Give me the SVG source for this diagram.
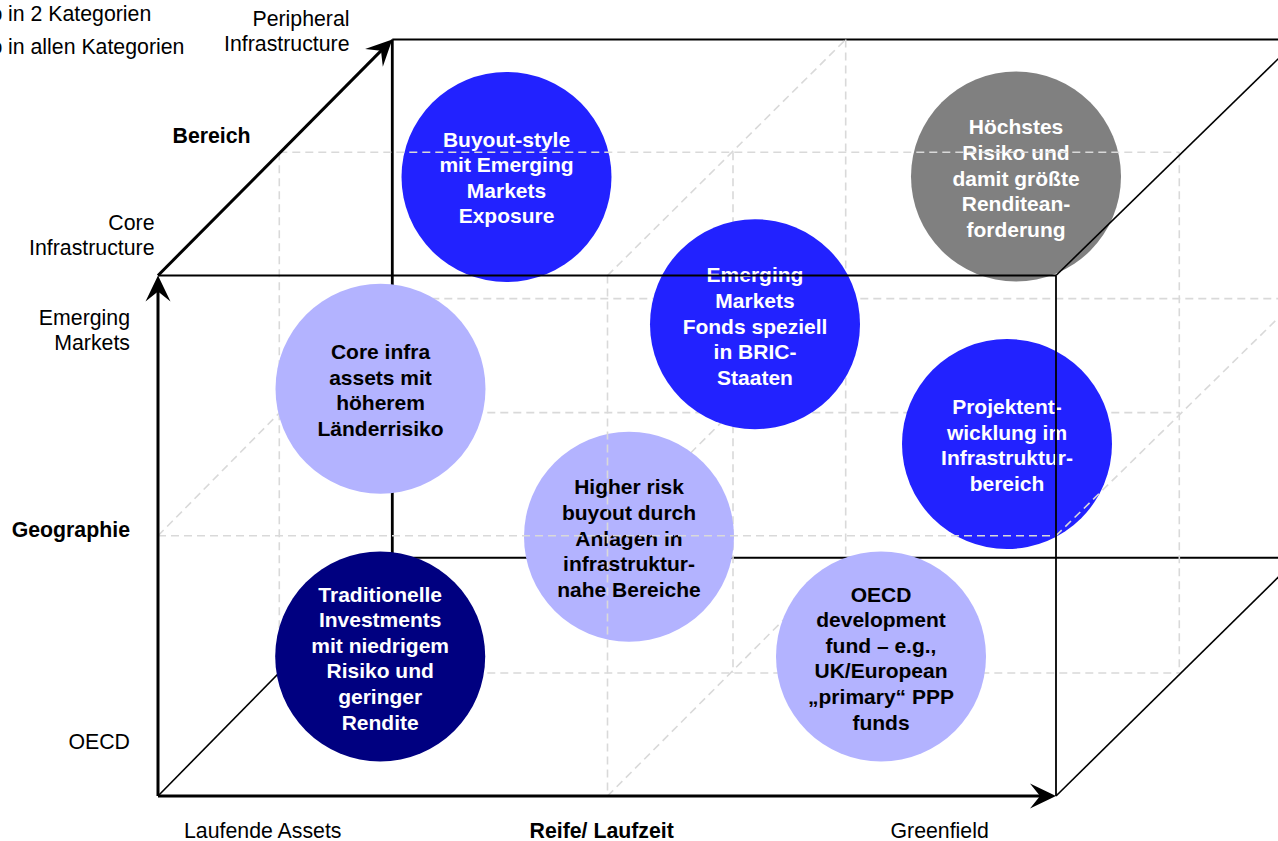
<svg xmlns="http://www.w3.org/2000/svg" width="1278" height="841" viewBox="0 0 1278 841">
<style>
.solid{stroke:#000;fill:none;stroke-linecap:butt}
.dash{stroke:#d9d9d9;stroke-width:1.6;stroke-dasharray:8 5;fill:none}
.lbl{font-family:"Liberation Sans",Arial,sans-serif;font-size:21.3px;fill:#000}
.b{font-weight:bold}
.r{text-anchor:end}
.ct{font-family:"Liberation Sans",Arial,sans-serif;font-size:21px;font-weight:bold;text-anchor:middle}
.w{fill:#fff}
.k{fill:#000}
.blue{fill:#2222ff}
.lav{fill:#b3b3ff}
.navy{fill:#000080}
.grey{fill:#808080}
</style>
<defs>
<marker id="arr" viewBox="-11 -14 28 28" refX="2" refY="0" markerWidth="28" markerHeight="28" markerUnits="userSpaceOnUse" orient="auto">
<path d="M16,0 L-10,-12.5 L0,0 L-10,12.5 Z" fill="#000"/>
</marker>
</defs>
<rect width="1278" height="841" fill="#fff"/>

<g id="legend">
<text class="lbl" x="-9.5" y="21">o</text>
<text class="lbl" x="8" y="21">in 2 Kategorien</text>
<text class="lbl" x="-9.5" y="54">o</text>
<text class="lbl" x="8" y="54">in allen Kategorien</text>
</g>

<g id="axis-labels">
<text class="lbl r" x="349.5" y="26">Peripheral</text>
<text class="lbl r" x="349.5" y="51">Infrastructure</text>
<text class="lbl b" x="172.5" y="142.5">Bereich</text>
<text class="lbl r" x="154.5" y="230">Core</text>
<text class="lbl r" x="154.5" y="254.5">Infrastructure</text>
<text class="lbl r" x="130" y="325">Emerging</text>
<text class="lbl r" x="130" y="350">Markets</text>
<text class="lbl b r" x="130" y="537">Geographie</text>
<text class="lbl r" x="130" y="749">OECD</text>
<text class="lbl" x="184" y="838">Laufende Assets</text>
<text class="lbl b" x="529.5" y="838">Reife/ Laufzeit</text>
<text class="lbl" x="890.5" y="838">Greenfield</text>
</g>

<g id="grid-back">
<path class="solid" stroke-width="2" d="M392.3,39.5 H1300"/>
<path class="solid" stroke-width="2.8" d="M392.3,39.5 V557.7"/>
<path class="solid" stroke-width="2" d="M392.3,557.7 H1300"/>
<path class="solid" stroke-width="1.6" d="M158,796 L392.3,557.7"/>
<path class="dash" d="M845.7,39.5 V557.7"/>
<path class="dash" d="M392.3,298.6 H1300"/>
<path class="dash" d="M279.3,152.3 V673"/>
<path class="dash" d="M1179.3,152.3 V673"/>
<path class="dash" d="M733,152.3 V673"/>
<path class="dash" d="M279.3,673 H1179.3"/>
<path class="dash" d="M279.3,412.6 H1179.3"/>
<path class="dash" d="M607.5,275.5 L845.7,39.5"/>
<path class="dash" d="M607.5,796 L845.7,557.7"/>
<path class="dash" d="M158,535.75 L392.3,298.6"/>
<path class="dash" d="M607.5,535.75 L845.7,298.6"/>
</g>

<g id="node-buyout">
<circle class="blue" cx="506.5" cy="177" r="105"/>
<text class="ct w" x="506.5" y="146.6">Buyout-style</text>
<text class="ct w" x="506.5" y="172.2">mit Emerging</text>
<text class="ct w" x="506.5" y="197.8">Markets</text>
<text class="ct w" x="506.5" y="223.4">Exposure</text>
</g>

<g id="node-hoechstes">
<circle class="grey" cx="1016" cy="176.5" r="105"/>
<text class="ct w" x="1016" y="134.3">Höchstes</text>
<text class="ct w" x="1016" y="159.9">Risiko und</text>
<text class="ct w" x="1016" y="185.5">damit größte</text>
<text class="ct w" x="1016" y="211.1">Renditean-</text>
<text class="ct w" x="1016" y="236.7">forderung</text>
</g>

<g id="node-emerging">
<circle class="blue" cx="755" cy="324.2" r="105"/>
<text class="ct w" x="755" y="282.3">Emerging</text>
<text class="ct w" x="755" y="307.9">Markets</text>
<text class="ct w" x="755" y="333.5">Fonds speziell</text>
<text class="ct w" x="755" y="359.1">in BRIC-</text>
<text class="ct w" x="755" y="384.7">Staaten</text>
</g>

<g id="node-coreinfra">
<circle class="lav" cx="380.5" cy="388.8" r="105"/>
<text class="ct k" x="380.5" y="359.1">Core infra</text>
<text class="ct k" x="380.5" y="384.7">assets mit</text>
<text class="ct k" x="380.5" y="410.3">höherem</text>
<text class="ct k" x="380.5" y="435.9">Länderrisiko</text>
</g>

<g id="node-projekt">
<circle class="blue" cx="1007" cy="444" r="105"/>
<text class="ct w" x="1007" y="414.1">Projektent-</text>
<text class="ct w" x="1007" y="439.7">wicklung im</text>
<text class="ct w" x="1007" y="465.3">Infrastruktur-</text>
<text class="ct w" x="1007" y="490.9">bereich</text>
</g>

<g id="node-higherrisk">
<circle class="lav" cx="629" cy="536.7" r="105"/>
<text class="ct k" x="629" y="494.3">Higher risk</text>
<text class="ct k" x="629" y="519.9">buyout durch</text>
<text class="ct k" x="629" y="545.5">Anlagen in</text>
<text class="ct k" x="629" y="571.1">infrastruktur-</text>
<text class="ct k" x="629" y="596.7">nahe Bereiche</text>
</g>

<g id="node-traditionelle">
<circle class="navy" cx="380.2" cy="656.5" r="105"/>
<text class="ct w" x="380.2" y="601.5">Traditionelle</text>
<text class="ct w" x="380.2" y="627.1">Investments</text>
<text class="ct w" x="380.2" y="652.7">mit niedrigem</text>
<text class="ct w" x="380.2" y="678.3">Risiko und</text>
<text class="ct w" x="380.2" y="703.9">geringer</text>
<text class="ct w" x="380.2" y="729.5">Rendite</text>
</g>

<g id="node-oecd">
<circle class="lav" cx="881" cy="656.5" r="105"/>
<text class="ct k" x="881" y="601.5">OECD</text>
<text class="ct k" x="881" y="627.1">development</text>
<text class="ct k" x="881" y="652.7">fund – e.g.,</text>
<text class="ct k" x="881" y="678.3">UK/European</text>
<text class="ct k" x="881" y="703.9">„primary“ PPP</text>
<text class="ct k" x="881" y="729.5">funds</text>
</g>

<g id="connectors">
<path class="dash" d="M607.5,275.5 V796"/>
<path class="dash" d="M158,535.75 H1056"/>
<path class="dash" d="M279.3,152.3 H1179.3"/>
<path class="dash" d="M1056,535.75 L1298,298.6"/>
<path class="solid" stroke-width="2" d="M158,275.5 H1056"/>
<path class="solid" stroke-width="1.8" d="M1056,275.5 V796"/>
<path class="solid" stroke-width="1.6" d="M1056,275.5 L1298,39.5"/>
<path class="solid" stroke-width="1.6" d="M1056,796 L1298,557.7"/>
<path class="solid" stroke-width="3" d="M158,796 H1042" marker-end="url(#arr)"/>
<path class="solid" stroke-width="3" d="M158,796 V289.5" marker-end="url(#arr)"/>
<path class="solid" stroke-width="3" d="M158,275.5 L382.4,49.4" marker-end="url(#arr)"/>
</g>
</svg>
